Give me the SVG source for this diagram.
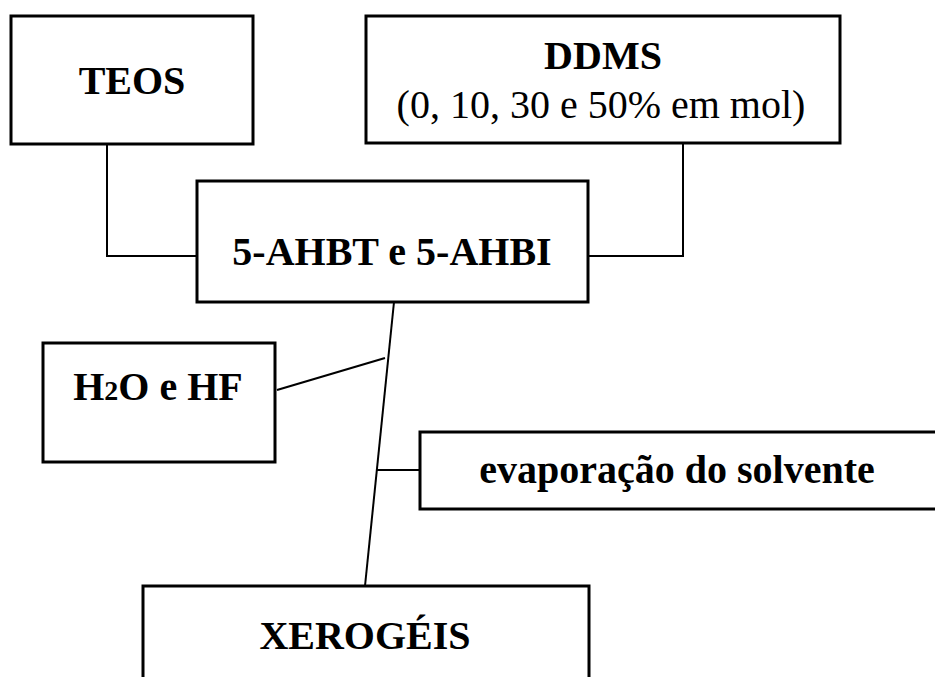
<svg xmlns="http://www.w3.org/2000/svg" width="935" height="677" viewBox="0 0 935 677">
<style>
.box{fill:#fff;stroke:#000;stroke-width:3}
.c{fill:none;stroke:#000;stroke-width:2}
.b{font-family:"Liberation Serif","Times New Roman",serif;font-weight:bold;font-size:40px;fill:#000;text-anchor:middle}
.r{font-family:"Liberation Serif","Times New Roman",serif;font-size:40px;fill:#000;text-anchor:middle}
</style>
<rect width="935" height="677" fill="#fff"/>
<g id="connectors">
<polyline class="c" points="107,144 107,256 197,256"/>
<polyline class="c" points="683,143 683,256 588,256"/>
<line class="c" x1="394" y1="302" x2="365" y2="586"/>
<line class="c" x1="277" y1="390" x2="385" y2="358"/>
<line class="c" x1="377" y1="470" x2="420" y2="470"/>
</g>
<g id="teos">
<rect class="box" x="11" y="16" width="242" height="128"/>
<text class="b" x="132" y="94">TEOS</text>
</g>
<g id="ddms">
<rect class="box" x="366" y="16" width="474" height="127"/>
<text class="b" x="603" y="69">DDMS</text>
<text class="r" x="601" y="118">(0, 10, 30 e 50% em mol)</text>
</g>
<g id="ahbt">
<rect class="box" x="197" y="181" width="391" height="121"/>
<text class="b" x="392" y="265">5-AHBT e 5-AHBI</text>
</g>
<g id="h2o">
<rect class="box" x="43" y="343" width="232" height="119"/>
<text class="b" x="158" y="400">H<tspan font-size="28">2</tspan>O e HF</text>
</g>
<g id="evap">
<rect class="box" x="420" y="432" width="530" height="77"/>
<text class="b" x="677" y="483">evaporação do solvente</text>
</g>
<g id="xerogeis">
<rect class="box" x="143" y="586" width="446" height="110"/>
<text class="b" x="365" y="649">XEROGÉIS</text>
</g>
</svg>
